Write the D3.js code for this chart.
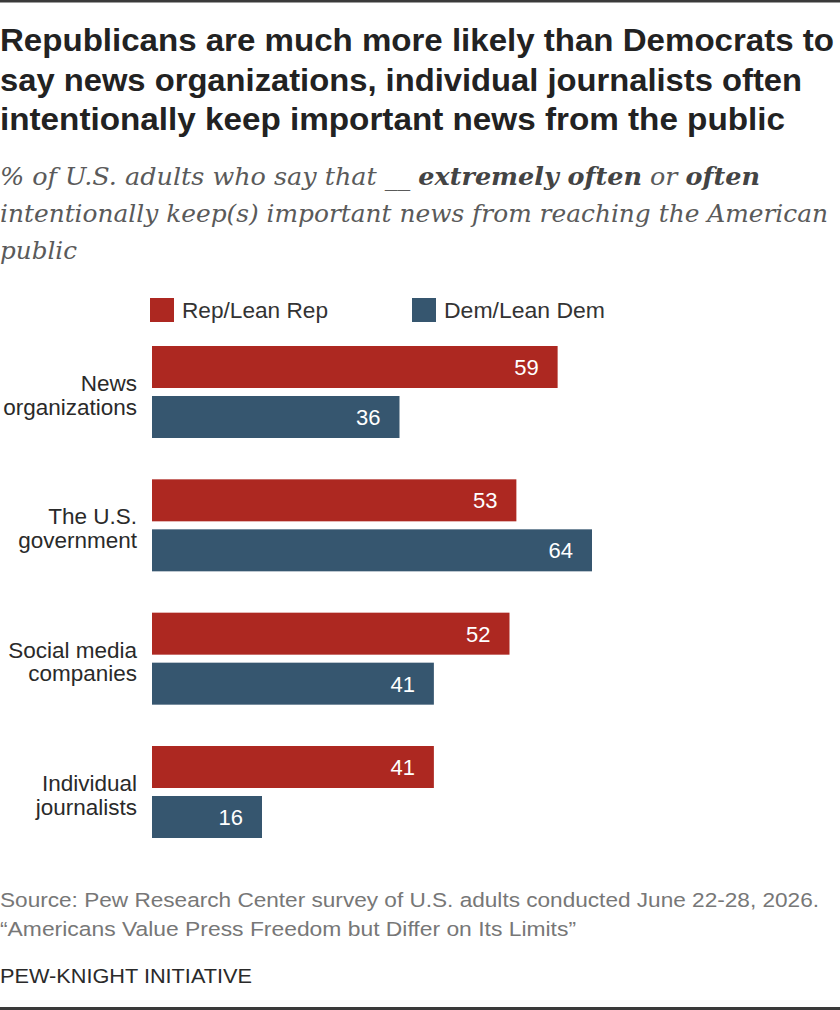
<!DOCTYPE html>
<html>
<head>
<meta charset="utf-8">
<script src="https://cdn.jsdelivr.net/npm/d3@7/dist/d3.min.js"></script>
<style>
  html, body { margin: 0; padding: 0; background: #fff; }
  svg { display: block; }
</style>
</head>
<body>
<svg id="chart" width="840" height="1010"></svg>
<script>
// ---- Data ----
const categories = ["News organizations", "The U.S. government", "Social media companies", "Individual journalists"];
const categoryLines = [["News", "organizations"], ["The U.S.", "government"], ["Social media", "companies"], ["Individual", "journalists"]];
const seriesNames = ["Rep/Lean Rep", "Dem/Lean Dem"];
const repValues = [59, 53, 52, 41];
const demValues = [36, 64, 41, 16];

const titleLines = [
  "Republicans are much more likely than Democrats to",
  "say news organizations, individual journalists often",
  "intentionally keep important news from the public"
];
const sourceLines = [
  "Source: Pew Research Center survey of U.S. adults conducted June 22-28, 2026.",
  "\u201CAmericans Value Press Freedom but Differ on Its Limits\u201D"
];
const brand = "PEW-KNIGHT INITIATIVE";

// ---- Styles ----
const RED = "#ad2821";
const BLUE = "#36566f";
const SANS = "'Liberation Sans', Arial, sans-serif";
const SERIF = "'DejaVu Serif', 'Liberation Serif', serif";

const svg = d3.select("#chart");

// borders
svg.append("rect").attr("x", 0).attr("y", 0).attr("width", 840).attr("height", 2.5).attr("fill", "#3a3a3a");
svg.append("rect").attr("x", 0).attr("y", 1007).attr("width", 840).attr("height", 3).attr("fill", "#3a3a3a");

// title
const titleWidths = [834, 802, 785];
titleLines.forEach((t, i) => {
  svg.append("text")
    .attr("x", 0).attr("y", 51 + i * 39.5)
    .attr("font-family", SANS).attr("font-weight", "bold").attr("font-size", 31.5)
    .attr("fill", "#222")
    .attr("textLength", titleWidths[i]).attr("lengthAdjust", "spacingAndGlyphs")
    .text(t);
});

// subtitle
const sub = [
  [["% of U.S. adults who say that __ ", false], ["extremely often", true], [" or ", false], ["often", true]],
  [["intentionally keep(s) important news from reaching the American", false]],
  [["public", false]]
];
const subWidths = [760, 828, 77];
sub.forEach((parts, i) => {
  const t = svg.append("text")
    .attr("x", 0).attr("y", 185 + i * 37)
    .attr("font-family", SERIF).attr("font-style", "italic").attr("font-size", 25)
    .attr("fill", "#5a5a5a")
    .attr("textLength", subWidths[i]).attr("lengthAdjust", "spacingAndGlyphs");
  parts.forEach(([s, b]) => {
    t.append("tspan").attr("font-weight", b ? "bold" : "normal").attr("fill", b ? "#444" : "#5a5a5a").text(s);
  });
});

// legend
const legendX = [150, 412];
const legendW = [146, 161];
seriesNames.forEach((name, i) => {
  svg.append("rect").attr("x", legendX[i]).attr("y", 298).attr("width", 24).attr("height", 24)
    .attr("fill", i === 0 ? RED : BLUE);
  svg.append("text").attr("x", legendX[i] + 32).attr("y", 318)
    .attr("font-family", SANS).attr("font-size", 21.5).attr("fill", "#333")
    .attr("textLength", legendW[i]).attr("lengthAdjust", "spacingAndGlyphs")
    .text(name);
});

// scales
const x = d3.scaleLinear().domain([0, 100]).range([152, 839.5]);
const y = d3.scaleBand().domain(categories).range([346, 838]).paddingInner(0.31).paddingOuter(0);
const ySub = d3.scaleBand().domain(seriesNames).range([0, y.bandwidth()]).paddingInner(0.16).paddingOuter(0);

const rows = categories.map((c, i) => ({
  cat: c, lines: categoryLines[i],
  vals: [{ s: seriesNames[0], v: repValues[i], color: RED }, { s: seriesNames[1], v: demValues[i], color: BLUE }]
}));

const g = svg.append("g");
const grp = g.selectAll("g.grp").data(rows).join("g").attr("class", "grp")
  .attr("transform", d => `translate(0,${y(d.cat)})`);

grp.selectAll("rect").data(d => d.vals).join("rect")
  .attr("x", x(0)).attr("y", d => ySub(d.s))
  .attr("width", d => x(d.v) - x(0)).attr("height", ySub.bandwidth())
  .attr("fill", d => d.color);

grp.selectAll("text.val").data(d => d.vals).join("text").attr("class", "val")
  .attr("x", d => x(d.v) - 19).attr("y", d => ySub(d.s) + ySub.bandwidth() / 2 + 8)
  .attr("text-anchor", "end")
  .attr("font-family", SANS).attr("font-size", 22).attr("fill", "#fff")
  .text(d => d.v);

grp.each(function(d) {
  const cy = y.bandwidth() / 2;
  const t = d3.select(this).append("text")
    .attr("text-anchor", "end")
    .attr("font-family", SANS).attr("font-size", 22.5).attr("fill", "#2a2a2a");
  d.lines.forEach((ln, j) => {
    t.append("tspan").attr("x", 137).attr("y", cy - 1 + j * 23.5).text(ln);
  });
});

// footer
const srcW = [819, 576];
sourceLines.forEach((s, i) => {
  svg.append("text").attr("x", 0).attr("y", 907 + i * 28.5)
    .attr("font-family", SANS).attr("font-size", 20.5).attr("fill", "#777")
    .attr("textLength", srcW[i]).attr("lengthAdjust", "spacingAndGlyphs")
    .text(s);
});
svg.append("text").attr("x", 0).attr("y", 983)
  .attr("font-family", SANS).attr("font-size", 21).attr("fill", "#2a2a2a")
  .attr("textLength", 252).attr("lengthAdjust", "spacingAndGlyphs")
  .text(brand);
</script>
</body>
</html>
